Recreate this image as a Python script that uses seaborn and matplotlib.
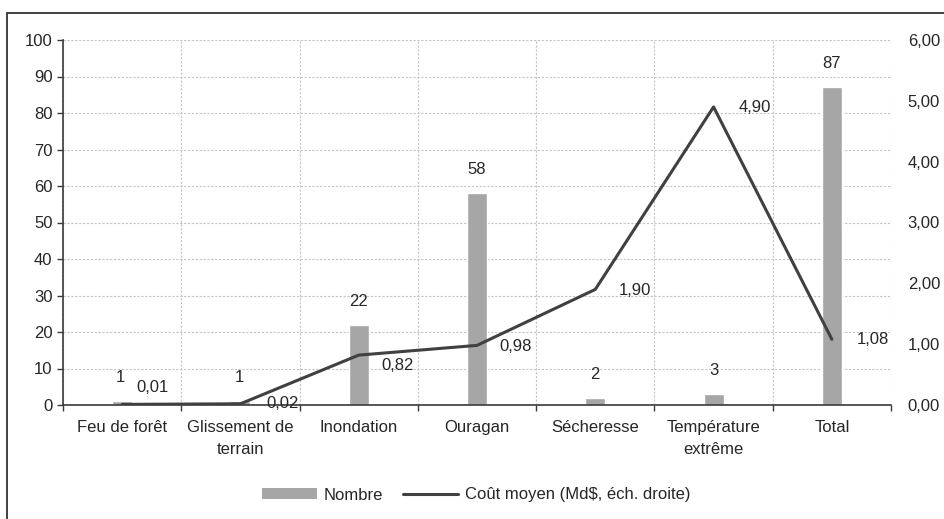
import numpy as np
import pandas as pd
import matplotlib
matplotlib.use("Agg")
import matplotlib.pyplot as plt
from matplotlib.patches import Patch, Rectangle
from matplotlib.lines import Line2D
import seaborn as sns

# Data
categories = ["Feu de forêt", "Glissement de\nterrain", "Inondation", "Ouragan",
              "Sécheresse", "Température\nextrême", "Total"]
nombre = [1, 1, 22, 58, 2, 3, 87]
cout_moyen = [0.01, 0.02, 0.82, 0.98, 1.90, 4.90, 1.08]
left_ticks = list(range(0, 101, 10))
right_ticks = [0, 1, 2, 3, 4, 5, 6]

sns.set_theme(style="white")
plt.rcParams["font.family"] = ["Liberation Sans Narrow", "Liberation Sans", "DejaVu Sans"]
plt.rcParams["font.size"] = 12

BAR = "#a6a6a6"
LINE = "#404040"
AXIS = "#3a3a3a"
GRID = "#c4c4c4"

# canvas is drawn with an extra strip on top that is trimmed away on export,
# so the heading above the frame shows only its lowest strokes
W, H, T = 944, 519, 30
FH = H + T


def fy(px_from_top):
    """figure fraction for a distance measured from the top of the exported image"""
    return 1 - (px_from_top + T) / FH


fig = plt.figure(figsize=(W / 100, FH / 100), dpi=100)
ax = fig.add_axes([63 / W, fy(405), (891 - 63) / W, (405 - 40) / FH])

df = pd.DataFrame({"cat": categories, "nombre": nombre, "cout": cout_moyen})
x = np.arange(len(categories))

sns.barplot(data=df, x="cat", y="nombre", color=BAR, width=0.17,
            saturation=1, ax=ax, zorder=2)
ax.set_xlim(-0.5, len(categories) - 0.5)
ax.set_ylim(0, 100)
ax.set_yticks(left_ticks)
ax.set_xlabel("")
ax.set_ylabel("")

# grid: horizontal at every 10, vertical at category boundaries
ax.set_xticks(np.arange(len(categories) + 1) - 0.5, minor=True)
ax.grid(axis="y", which="major", color=GRID, linestyle=(0, (2, 1.5)), linewidth=0.8, zorder=0)
ax.grid(axis="x", which="minor", color=GRID, linestyle=(0, (2, 1.5)), linewidth=0.8, zorder=0)
ax.set_axisbelow(True)

for s in ["top", "right"]:
    ax.spines[s].set_visible(False)
for s in ["left", "bottom"]:
    ax.spines[s].set_color(AXIS)
    ax.spines[s].set_linewidth(1.2)

ax.tick_params(axis="y", which="major", direction="out", length=4.5, width=1,
               color=AXIS, pad=3, labelsize=12, left=True)
ax.tick_params(axis="x", which="major", length=0, pad=11, labelsize=12)
ax.tick_params(axis="x", which="minor", direction="out", length=4.5, width=1,
               color=AXIS, bottom=True)
ax.set_xticks(x)
ax.set_xticklabels(categories, linespacing=1.6)

# bar value labels
for xi, v in zip(x, nombre):
    ax.annotate(f"{v}", (xi, v), xytext=(-1 if v == 1 else 0, 17),
                textcoords="offset points", ha="center", va="center", fontsize=12)

# secondary axis: average cost line
ax2 = ax.twinx()
sns.lineplot(x=x, y=cout_moyen, color=LINE, linewidth=2.2, sort=False, ax=ax2)
ax2.set_ylim(0, 6)
ax2.set_yticks(right_ticks)
ax2.set_yticklabels([f"{t:.2f}".replace(".", ",") for t in right_ticks])
ax2.tick_params(axis="y", length=0, pad=12, labelsize=12)
for s in ["top", "right", "left", "bottom"]:
    ax2.spines[s].set_visible(False)
ax2.grid(False)
ax2.set_xlim(-0.5, len(categories) - 0.5)

# line value labels (offsets in pixels: right of each point)
offsets_px = [(30, 17), (42, 0), (39, -10), (39, -1), (40, -1), (41, -1), (41, 0)]
for xi, v, (dx, dy) in zip(x, cout_moyen, offsets_px):
    ax2.annotate(f"{v:.2f}".replace(".", ","), (xi, v),
                 xytext=(dx * 0.72, dy * 0.72), textcoords="offset points",
                 ha="center", va="center", fontsize=12)

# legend
handles = [Patch(facecolor=BAR, edgecolor="none"),
           Line2D([0], [0], color=LINE, linewidth=2.2)]
fig.legend(handles, ["Nombre", "Coût moyen (Md$, éch. droite)"],
           loc="center", bbox_to_anchor=(476 / W, fy(495)), ncol=2,
           frameon=False, fontsize=12, handlelength=3.3, handleheight=0.6,
           columnspacing=1.2, handletextpad=0.4)

# outer frame
fig.add_artist(Rectangle((7 / W, -0.1), 1.0, 0.1 + fy(13),
                         transform=fig.transFigure, fill=False,
                         edgecolor="#333333", linewidth=1.3))

# heading above the frame
fig.text(40 / W, fy(-7),
         "Figure 5 – Coût moyen des catastrophes naturelles au Canada par type d'événement",
         fontsize=14.5, fontweight="bold", family=["Liberation Sans", "DejaVu Sans"],
         ha="left", va="baseline", color="#111111")

fig.canvas.draw()
img = np.asarray(fig.canvas.buffer_rgba())[T:, :, :].copy()
plt.imsave("out.png", img)
